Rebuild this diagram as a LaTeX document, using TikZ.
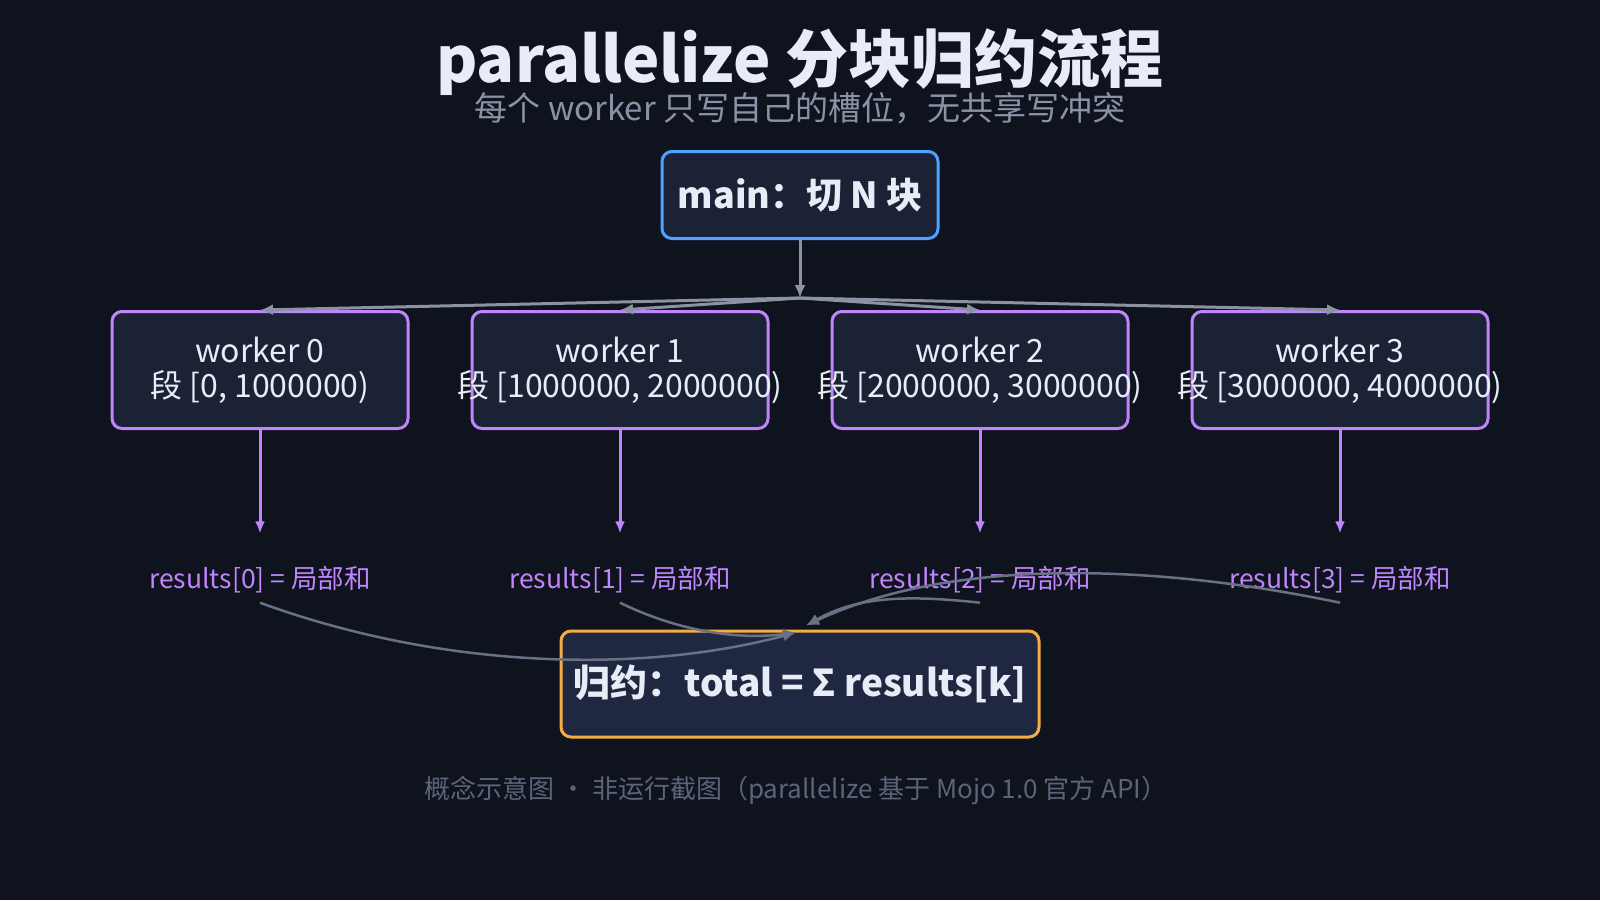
\documentclass[tikz,border=0pt]{standalone}
\usepackage{fontspec}
\setmainfont{Noto Sans CJK SC}
\usepackage{tikz}
\usetikzlibrary{arrows.meta}
\definecolor{bg}{HTML}{0F131E}
\definecolor{boxfill}{HTML}{1B2235}
\definecolor{redfill}{HTML}{1F2840}
\definecolor{ink}{HTML}{E8ECF6}
\definecolor{subgray}{HTML}{8A93A6}
\definecolor{footgray}{HTML}{5B6478}
\definecolor{mainblue}{HTML}{4DA3FF}
\definecolor{purp}{HTML}{C084FC}
\definecolor{orng}{HTML}{F5AD42}
\definecolor{fangray}{HTML}{8B93A3}
\definecolor{curvegray}{HTML}{697185}
\tikzset{box/.style={draw, rounded corners=10pt, line width=3pt, fill=boxfill}}
\newcommand{\wk}[2]{\makebox[0pt]{worker #1}\\\makebox[0pt]{段 [#2)}}

\begin{document}
\begin{tikzpicture}[x=1pt,y=-1pt,
mainbox/.style={box, draw=mainblue, minimum width=276pt, minimum height=87pt, text=ink, font=\fontsize{36}{42}\selectfont\bfseries},
worker/.style={box, draw=purp, minimum width=296pt, minimum height=117pt, align=center, text=ink, font=\fontsize{32}{35}\selectfont},
reducebox/.style={box, draw=orng, fill=redfill, minimum width=478pt, minimum height=106pt, text=ink, font=\fontsize{37}{44}\selectfont\bfseries},
result/.style={text=purp, font=\fontsize{26.5}{30}\selectfont, inner sep=10pt, anchor=base},
fan/.style={draw=fangray, line width=3pt, -{Latex[length=13pt,width=11pt]}},
down/.style={draw=purp, line width=3pt, -{Latex[length=12pt,width=10pt]}},
merge/.style={draw=curvegray, line width=2.5pt, -{Latex[length=13pt,width=11pt]}},
]
\fill[bg] (0,0) rectangle (1600,900);
\useasboundingbox (0,0) rectangle (1600,900);

\node[anchor=base, text=ink, font=\fontsize{63}{70}\selectfont\bfseries] (title) at (800,82) {parallelize 分块归约流程};
\node[anchor=base, text=subgray, font=\fontsize{33}{38}\selectfont] (sub) at (800,120) {每个 worker 只写自己的槽位，无共享写冲突};

\node[mainbox] (main) at (800,195) {main：切 N 块};
\coordinate (split) at (800,298);

\node[worker] (w0) at (260,370) {\wk{0}{0, 1000000}};
\node[worker] (w1) at (620,370) {\wk{1}{1000000, 2000000}};
\node[worker] (w2) at (980,370) {\wk{2}{2000000, 3000000}};
\node[worker] (w3) at (1340,370) {\wk{3}{3000000, 4000000}};

\node[result] (r0) at (260,588) {results[0] = 局部和};
\node[result] (r1) at (620,588) {results[1] = 局部和};
\node[result] (r2) at (980,588) {results[2] = 局部和};
\node[result] (r3) at (1340,588) {results[3] = 局部和};

\node[reducebox] (reduce) at (800,684) {归约：total = Σ results[k]};

\node[anchor=base, text=footgray, font=\fontsize{26}{30}\selectfont] (foot) at (796,798) {概念示意图 · 非运行截图（parallelize 基于 Mojo 1.0 官方 API）};

% fan out
\draw[fan] (main) -- (split);
\foreach \i in {0,...,3}
  \draw[fan] (split) -- (w\i.north);

% each worker writes its slot
\foreach \i in {0,...,3}
  \draw[down, shorten >=22pt] (w\i) -- (r\i);

% reduce
\draw[merge] (r0.south) .. controls (450,672) and (650,672) .. ([xshift=-4pt,yshift=-3pt]reduce.north);
\draw[merge] (r1.south) .. controls (680,632) and (740,640) .. ([xshift=-4pt,yshift=-3pt]reduce.north);
\draw[merge] (r2.south) .. controls (900,594) and (855,598) .. ([xshift=6pt,yshift=4pt]reduce.north);
\draw[merge] (r3.south) .. controls (1150,563) and (950,558) .. ([xshift=6pt,yshift=4pt]reduce.north);
\end{tikzpicture}
\end{document}
